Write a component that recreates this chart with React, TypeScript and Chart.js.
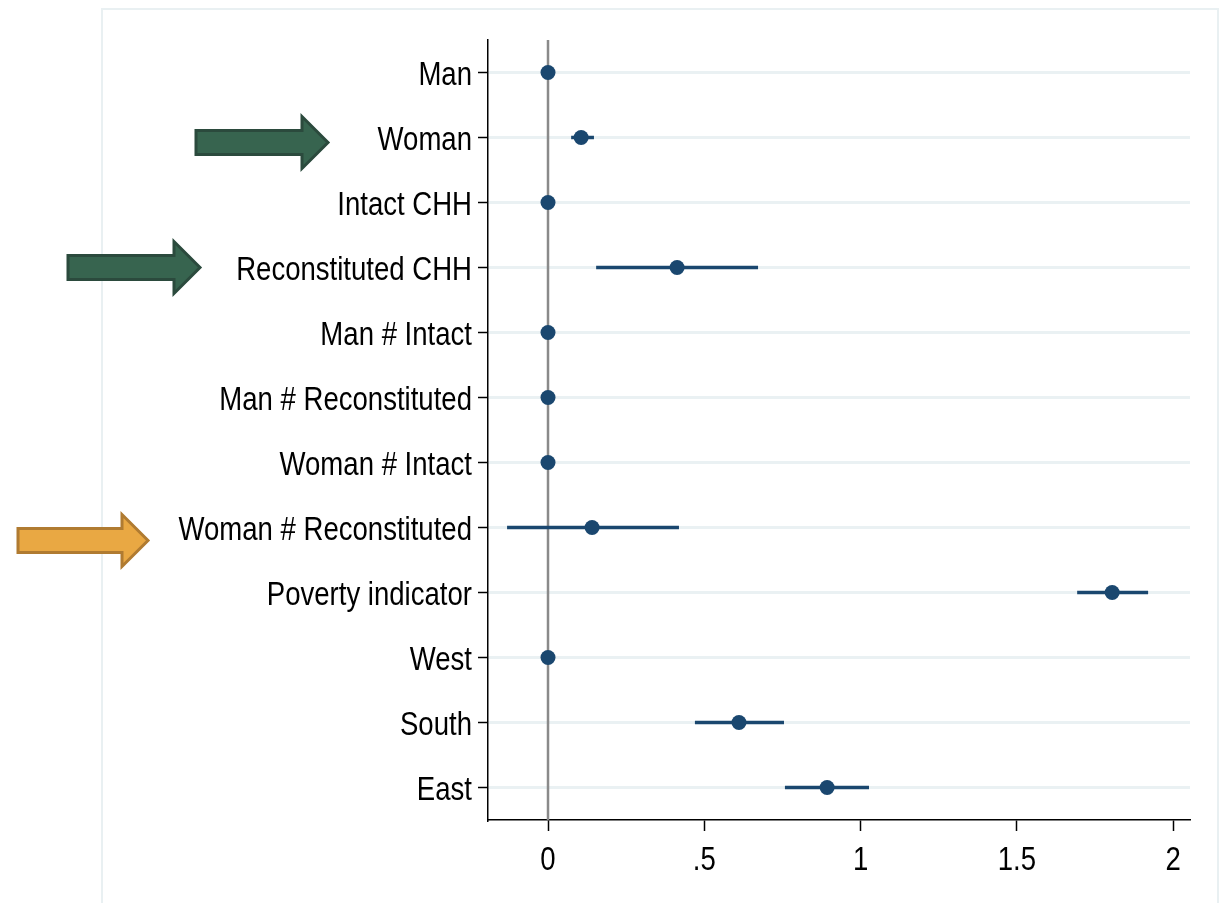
import React, { useEffect, useRef } from "react";
import { Chart, registerables } from "chart.js";
Chart.register(...registerables);

const categories = [
  "Man",
  "Woman",
  "Intact CHH",
  "Reconstituted CHH",
  "Man # Intact",
  "Man # Reconstituted",
  "Woman # Intact",
  "Woman # Reconstituted",
  "Poverty indicator",
  "West",
  "South",
  "East",
];
const estimates = [0, 0.106, 0, 0.413, 0, 0, 0, 0.141, 1.805, 0, 0.611, 0.893];
const lowerCI = [0, 0.074, 0, 0.154, 0, 0, 0, -0.131, 1.693, 0, 0.47, 0.758];
const upperCI = [0, 0.147, 0, 0.672, 0, 0, 0, 0.419, 1.92, 0, 0.755, 1.027];
const xTicks = [0, 0.5, 1, 1.5, 2];
const xTickLabels = ["0", ".5", "1", "1.5", "2"];
const arrowRows = ["Woman", "Reconstituted CHH", "Woman # Reconstituted"];

const NAVY = "#1a476f";
const FONT = "'Liberation Sans', Arial, sans-serif";
const FONT_SIZE = 33;
const SQUEEZE = 0.835;

const decorPlugin = {
  id: "decor",
  beforeDraw(chart: any) {
    const ctx = chart.ctx;
    ctx.save();
    ctx.strokeStyle = "#e9f0f2";
    ctx.lineWidth = 2;
    ctx.strokeRect(102, 9, 1116, 1000);
    ctx.restore();
  },
  beforeDatasetsDraw(chart: any) {
    const { ctx, chartArea, scales } = chart;
    const x = scales.x;
    const y = scales.y;
    ctx.save();
    const x0 = x.getPixelForValue(0);
    ctx.strokeStyle = "#8a8a8a";
    ctx.lineWidth = 2.5;
    ctx.beginPath();
    ctx.moveTo(x0, chartArea.top);
    ctx.lineTo(x0, chartArea.bottom);
    ctx.stroke();
    ctx.strokeStyle = NAVY;
    ctx.lineWidth = 3.5;
    categories.forEach((c, i) => {
      if (upperCI[i] === lowerCI[i]) return;
      const py = y.getPixelForValue(i);
      ctx.beginPath();
      ctx.moveTo(x.getPixelForValue(lowerCI[i]), py);
      ctx.lineTo(x.getPixelForValue(upperCI[i]), py);
      ctx.stroke();
    });
    ctx.restore();
  },
  afterDraw(chart: any) {
    const { ctx, scales, chartArea } = chart;
    const y = scales.y;
    const x = scales.x;
    ctx.save();
    // condensed tick labels
    ctx.fillStyle = "#000";
    ctx.font = `${FONT_SIZE}px ${FONT}`;
    ctx.textBaseline = "alphabetic";
    ctx.textAlign = "right";
    const capHalf = FONT_SIZE * 0.729 / 2;
    categories.forEach((c, i) => {
      const py = y.getPixelForValue(i);
      ctx.save();
      ctx.translate(y.right - 16, py + capHalf);
      ctx.scale(SQUEEZE, 1);
      ctx.fillText(c, 0, 0);
      ctx.restore();
    });
    ctx.textAlign = "center";
    xTicks.forEach((v, i) => {
      ctx.save();
      ctx.translate(x.getPixelForValue(v), chartArea.bottom + 38 + capHalf);
      ctx.scale(SQUEEZE, 1);
      ctx.fillText(xTickLabels[i], 0, 0);
      ctx.restore();
    });
    // arrows
    const specs = [
      { row: arrowRows[0], x0: 196, x1: 328, dy: 5, fill: "#37644f", stroke: "#2b4a3d" },
      { row: arrowRows[1], x0: 68, x1: 200, dy: 0, fill: "#37644f", stroke: "#2b4a3d" },
      { row: arrowRows[2], x0: 18, x1: 148, dy: 13, fill: "#e9a843", stroke: "#b07b31" },
    ];
    specs.forEach((s) => {
      const cy = y.getPixelForValue(categories.indexOf(s.row)) + s.dy;
      const hx = s.x1 - 26;
      ctx.beginPath();
      ctx.moveTo(s.x0, cy - 12);
      ctx.lineTo(hx, cy - 12);
      ctx.lineTo(hx, cy - 26);
      ctx.lineTo(s.x1, cy);
      ctx.lineTo(hx, cy + 26);
      ctx.lineTo(hx, cy + 12);
      ctx.lineTo(s.x0, cy + 12);
      ctx.closePath();
      ctx.fillStyle = s.fill;
      ctx.fill();
      ctx.strokeStyle = s.stroke;
      ctx.lineWidth = 3;
      ctx.stroke();
    });
    ctx.restore();
  },
};

export default function App() {
  const ref = useRef<HTMLCanvasElement>(null);
  useEffect(() => {
    document.body.style.margin = "0";
    const chart = new Chart(ref.current as HTMLCanvasElement, {
      type: "scatter",
      data: {
        labels: categories,
        datasets: [
          {
            data: categories.map((c, i) => ({ x: estimates[i], y: c })) as any,
            backgroundColor: NAVY,
            borderColor: NAVY,
            pointRadius: 7.5,
            pointHoverRadius: 7.5,
            borderWidth: 0,
          },
        ],
      },
      options: {
        animation: false,
        responsive: false,
        events: [],
        layout: { padding: { top: 40, right: 37, left: 0, bottom: 0 } },
        plugins: { legend: { display: false }, tooltip: { enabled: false } },
        scales: {
          x: {
            type: "linear",
            min: -0.192,
            max: 2.054,
            afterBuildTicks: (s: any) => {
              s.ticks = xTicks.map((v) => ({ value: v }));
            },
            afterFit: (s: any) => {
              s.height = 83;
            },
            ticks: { display: false },
            grid: {
              drawOnChartArea: false,
              drawTicks: true,
              tickLength: 11,
              tickColor: "#000",
              tickWidth: 1.5,
            },
            border: { display: true, color: "#000", width: 1.5 },
          },
          y: {
            type: "category",
            labels: categories,
            offset: true,
            afterFit: (s: any) => {
              s.width = 488;
            },
            ticks: { display: false },
            grid: {
              offset: false,
              color: "#eaf1f3",
              lineWidth: 3,
              drawTicks: true,
              tickLength: 10,
              tickColor: "#000",
              tickWidth: 1.5,
            },
            border: { display: true, color: "#000", width: 1.5 },
          },
        },
      },
      plugins: [decorPlugin],
    } as any);
    return () => chart.destroy();
  }, []);
  return <canvas ref={ref} width={1227} height={903} style={{ display: "block" }} />;
}
